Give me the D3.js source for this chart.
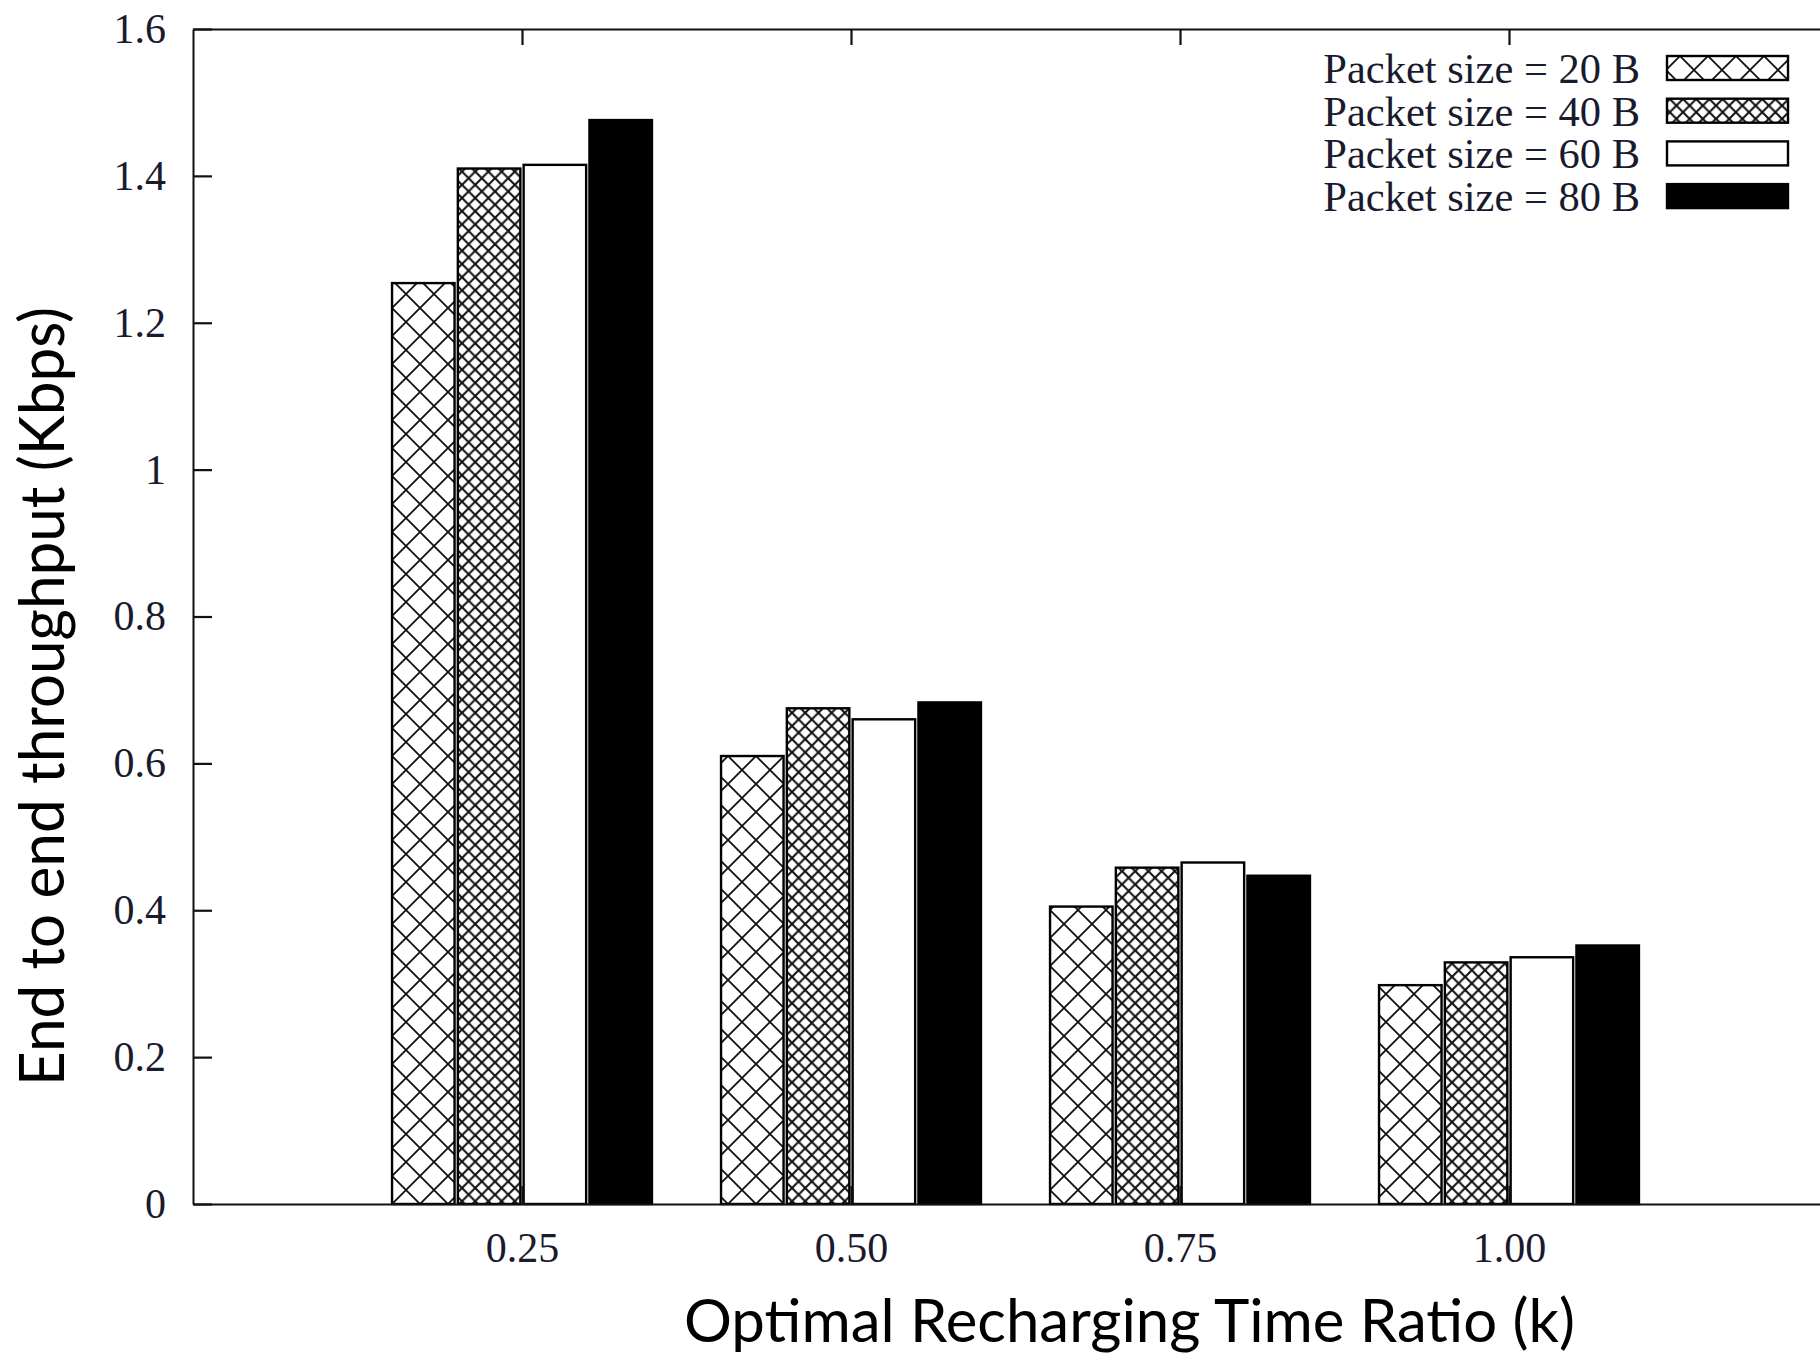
<!DOCTYPE html>
<html>
<head>
<meta charset="utf-8">
<script src="https://cdnjs.cloudflare.com/ajax/libs/d3/7.8.5/d3.min.js"></script>
<style>
	html, body { margin: 0; padding: 0; background: #fff; }
	svg { display: block; }
</style>
</head>
<body>
<div id="chart"></div>
<script>

// recharging time ratio groups
var kLabels = ["0.25", "0.50", "0.75", "1.00"];

// series (packet size)
var seriesNames = ["Packet size = 20 B", "Packet size = 40 B", "Packet size = 60 B", "Packet size = 80 B"];

// throughput values in Kbps, one array per packet size
var size20 = [1.254, 0.610, 0.405, 0.298];
var size40 = [1.410, 0.675, 0.458, 0.329];
var size60 = [1.415, 0.660, 0.465, 0.336];
var size80 = [1.476, 0.683, 0.447, 0.352];

var yTicks = [0, 0.2, 0.4, 0.6, 0.8, 1, 1.2, 1.4, 1.6];

var dimensions = {
	width: 1820,
	height: 1357,
	left: 193,
	right: 1838,
	top: 29,
	bottom: 1204
};

var allSeries = [size20, size40, size60, size80];
var fills = ["url(#hatch20)", "url(#hatch40)", "#fff", "#000"];

var svg = d3.select("#chart")
	.append("svg")
	.attr("width", dimensions.width)
	.attr("height", dimensions.height);

// hatch patterns like the gnuplot ones
var defs = svg.append("defs");

function hatch(id, size, width) {
	var p = defs.append("pattern")
		.attr("id", id)
		.attr("patternUnits", "userSpaceOnUse")
		.attr("width", size)
		.attr("height", size);
	p.append("rect").attr("width", size).attr("height", size).attr("fill", "#fff");
	p.append("path")
		.attr("d", "M0,0L" + size + "," + size + "M" + size + ",0L0," + size +
			"M-" + size + ",0L" + size + "," + (2 * size) + "M0,-" + size + "L" + (2 * size) + "," + size)
		.attr("stroke", "#111")
		.attr("stroke-width", width)
		.attr("fill", "none");
}
hatch("hatch20", 28, 1.8);
hatch("hatch40", 13.2, 2.1);

// scales: groups sit at 1..4 on a 0..5 axis
var x = d3.scaleLinear().domain([0, 5]).range([dimensions.left, dimensions.right]);
var y = d3.scaleLinear().domain([0, 1.6]).range([dimensions.bottom, dimensions.top]);

var slot = 0.2;
var barWidth = 0.19;

// bars
var groups = svg.append("g").attr("class", "bars");

allSeries.forEach(function(values, j) {
	groups.selectAll("rect.s" + j)
		.data(values)
		.enter()
		.append("rect")
		.attr("class", "s" + j)
		.attr("x", function(d, i) {
			return x(i + 1 - 2 * slot + j * slot + (slot - barWidth) / 2);
		})
		.attr("y", function(d) { return y(d); })
		.attr("width", function() { return x(barWidth) - x(0); })
		.attr("height", function(d) { return y(0) - y(d); })
		.attr("fill", fills[j])
		.attr("stroke", "#000")
		.attr("stroke-width", 2.4);
});

// axes
var tickFont = "'Liberation Serif', 'Times New Roman', serif";

var bottomAxis = d3.axisBottom(x)
	.tickValues([1, 2, 3, 4])
	.tickFormat(function(d, i) { return kLabels[i]; })
	.tickSizeInner(-18)
	.tickSizeOuter(0)
	.tickPadding(28);

var leftAxis = d3.axisLeft(y)
	.tickValues(yTicks)
	.tickFormat(function(d) { return String(+d.toFixed(1)); })
	.tickSizeInner(-19)
	.tickSizeOuter(0)
	.tickPadding(27);

var topAxis = d3.axisTop(x)
	.tickValues([1, 2, 3, 4])
	.tickFormat("")
	.tickSizeInner(-16)
	.tickSizeOuter(0);

var gb = svg.append("g")
	.attr("transform", "translate(0," + dimensions.bottom + ")")
	.call(bottomAxis);

var gl = svg.append("g")
	.attr("transform", "translate(" + dimensions.left + ",0)")
	.call(leftAxis);

var gt = svg.append("g")
	.attr("transform", "translate(0," + dimensions.top + ")")
	.call(topAxis);

[gb, gl, gt].forEach(function(g) {
	g.attr("color", "#111");
	g.select(".domain").attr("stroke-width", 2);
	g.selectAll(".tick line").attr("stroke-width", 2.2);
	g.selectAll(".tick text")
		.attr("font-family", tickFont)
		.attr("font-size", 42)
		.attr("fill", "#1a1a2e");
});

// right border (mostly outside the picture)
svg.append("line")
	.attr("x1", dimensions.right).attr("x2", dimensions.right)
	.attr("y1", dimensions.top).attr("y2", dimensions.bottom)
	.attr("stroke", "#111").attr("stroke-width", 2);

// legend
var legend = svg.append("g").attr("class", "legend");

legend.selectAll("text")
	.data(seriesNames)
	.enter()
	.append("text")
	.attr("x", 1640)
	.attr("y", function(d, i) { return 83 + i * 42.7; })
	.attr("text-anchor", "end")
	.attr("font-family", tickFont)
	.attr("font-size", 42.5)
	.attr("fill", "#1a1a2e")
	.text(function(d) { return d; });

legend.selectAll("rect")
	.data(seriesNames)
	.enter()
	.append("rect")
	.attr("x", 1667)
	.attr("y", function(d, i) { return 56 + i * 42.7; })
	.attr("width", 121)
	.attr("height", 24)
	.attr("fill", function(d, i) { return fills[i]; })
	.attr("stroke", "#000")
	.attr("stroke-width", 2.4);

// axis titles
var titleFont = "Lato, 'Open Sans', sans-serif";

svg.append("text")
	.attr("x", 684)
	.attr("y", 1342)
	.attr("font-family", titleFont)
	.attr("font-size", 60)
	.attr("textLength", 891)
	.attr("lengthAdjust", "spacingAndGlyphs")
	.attr("fill", "#000")
	.text("Optimal Recharging Time Ratio (k)");

svg.append("text")
	.attr("transform", "translate(64,1086) rotate(-90)")
	.attr("font-family", titleFont)
	.attr("font-size", 61)
	.attr("textLength", 779)
	.attr("lengthAdjust", "spacingAndGlyphs")
	.attr("fill", "#000")
	.text("End to end throughput (Kbps)");

</script>
</body>
</html>
